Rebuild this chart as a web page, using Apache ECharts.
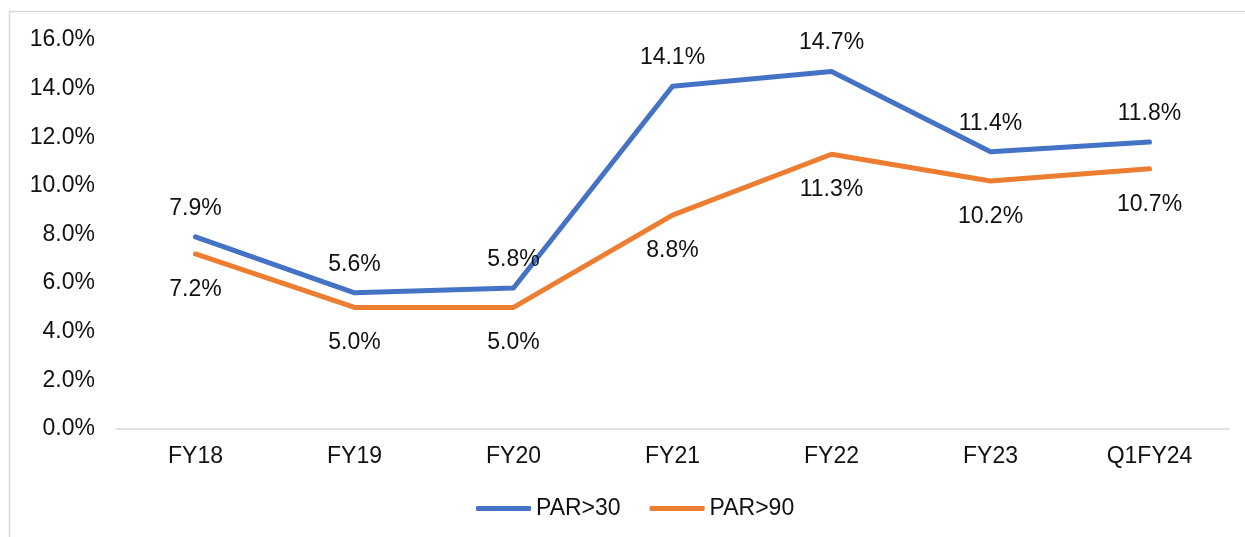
<!DOCTYPE html>
<html>
<head>
<meta charset="utf-8">
<script src="https://cdn.jsdelivr.net/npm/echarts@6/dist/echarts.min.js"></script>
<style>
  html, body { margin: 0; padding: 0; background: #fff; }
  #chart { width: 1245px; height: 537px; }
</style>
</head>
<body>
<div id="chart"></div>
<script>
// Portfolio-at-risk ratios by period (percent)
const categories = ['FY18', 'FY19', 'FY20', 'FY21', 'FY22', 'FY23', 'Q1FY24'];
const par30 = [7.9, 5.6, 5.8, 14.1, 14.7, 11.4, 11.8];
const par90 = [7.2, 5.0, 5.0, 8.8, 11.3, 10.2, 10.7];
const seriesNames = ['PAR>30', 'PAR>90'];

const FONT = '"Liberation Sans", Arial, sans-serif';
const TEXT = '#111';
const FS = 23;

function lineSeries(name, data, color, pos, dist) {
  return {
    name: name,
    type: 'line',
    data: data,
    color: color,
    lineStyle: { width: 5, color: color, cap: 'round', join: 'round' },
    // tiny markers hidden under the stroke; they carry the value labels
    symbol: 'circle',
    symbolSize: 2,
    showSymbol: true,
    itemStyle: { color: color, borderWidth: 0 },
    label: {
      show: true, position: pos, distance: dist,
      fontFamily: FONT, fontSize: FS, color: TEXT,
      formatter: p => p.value.toFixed(1) + '%'
    }
  };
}

const chart = echarts.init(document.getElementById('chart'), null, { renderer: 'canvas' });

chart.setOption({
  animation: false,
  backgroundColor: '#fff',
  textStyle: { fontFamily: FONT },
  graphic: [{
    type: 'rect',
    shape: { x: 9.5, y: 11.5, width: 1400, height: 700 },
    style: { fill: 'none', stroke: '#d9d9d9', lineWidth: 1.5 },
    silent: true
  }],
  grid: { left: 116, right: 16, top: 40, bottom: 108, containLabel: false },
  legend: {
    data: seriesNames,
    left: 476,
    top: 497,
    padding: 0,
    icon: 'roundRect',
    itemWidth: 55,
    itemHeight: 5,
    itemGap: 29,
    textStyle: { fontFamily: FONT, fontSize: FS, color: TEXT }
  },
  xAxis: {
    type: 'category',
    data: categories,
    boundaryGap: true,
    axisLine: { lineStyle: { color: '#d9d9d9', width: 1.5 } },
    axisTick: { show: false },
    axisLabel: { fontFamily: FONT, fontSize: FS, color: TEXT, margin: 16 }
  },
  yAxis: {
    type: 'value',
    min: 0,
    max: 16,
    interval: 2,
    axisLine: { show: false },
    axisTick: { show: false },
    splitLine: { show: false },
    axisLabel: {
      fontFamily: FONT, fontSize: FS, color: TEXT, margin: 21,
      padding: [4, 0, 0, 0],
      formatter: v => v.toFixed(1) + '%'
    }
  },
  series: [
    Object.assign(lineSeries(seriesNames[0], par30, '#4472C4', 'top', 16), { z: 3 }),
    Object.assign(lineSeries(seriesNames[1], par90, '#ED7D31', 'bottom', 23), { z: 2 })
  ]
});
</script>
</body>
</html>
